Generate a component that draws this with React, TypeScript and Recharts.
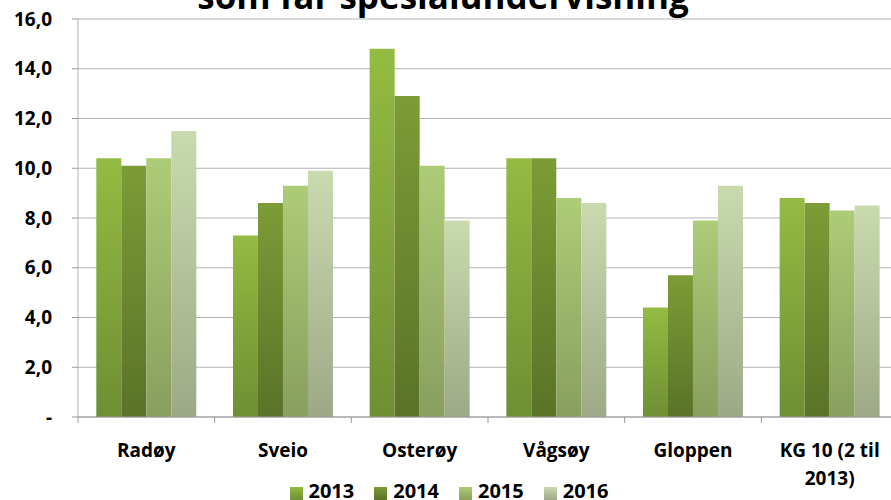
import React from "react";
import {
  BarChart,
  Bar,
  XAxis,
  YAxis,
  CartesianGrid,
  Legend,
  Text,
} from "recharts";

const kommunar = ["Radøy", "Sveio", "Osterøy", "Vågsøy", "Gloppen", "KG 10 (2 til 2013)"];
const aar = ["2013", "2014", "2015", "2016"];
const v2013 = [10.4, 7.3, 14.8, 10.4, 4.4, 8.8];
const v2014 = [10.1, 8.6, 12.9, 10.4, 5.7, 8.6];
const v2015 = [10.4, 9.3, 10.1, 8.8, 7.9, 8.3];
const v2016 = [11.5, 9.9, 7.9, 8.6, 9.3, 8.5];
const yTicks = [0, 2, 4, 6, 8, 10, 12, 14, 16];
const skiljeTicks = [0, 1, 2, 3, 4, 5, 6];

const seriesValues = [v2013, v2014, v2015, v2016];

const data = kommunar.map((name, i) => {
  const row: Record<string, string | number> = { name };
  aar.forEach((y, j) => {
    row[y] = seriesValues[j][i];
  });
  return row;
});

// top / bottom colours of the gradients, one pair per year
const gradients = [
  { id: "g2013", top: "#94bb42", bottom: "#6e8f33" },
  { id: "g2014", top: "#7c9c36", bottom: "#5a7328" },
  { id: "g2015", top: "#adcc77", bottom: "#889f5e" },
  { id: "g2016", top: "#c9daaf", bottom: "#9da986" },
];

const FONT = "'Open Sans', 'DejaVu Sans', sans-serif";

const fmtY = (v: number) => (v === 0 ? "-" : v.toFixed(1).replace(".", ","));

function CategoryTick(props: any) {
  const { x, y, payload } = props;
  return (
    <Text
      x={x}
      y={y + 18}
      width={125}
      textAnchor="middle"
      verticalAnchor="start"
      lineHeight={28}
      style={{ fontFamily: FONT, fontWeight: 700, fontSize: 19, fill: "#000" }}
    >
      {payload.value}
    </Text>
  );
}

function EmptyTick() {
  return <g />;
}

function LegendBox() {
  return (
    <div
      style={{
        display: "flex",
        justifyContent: "center",
        alignItems: "center",
        height: 22,
        fontFamily: FONT,
        fontWeight: 700,
        fontSize: 20,
        color: "#000",
      }}
    >
      {aar.map((y, i) => (
        <div key={y} style={{ display: "flex", alignItems: "center", marginRight: i < aar.length - 1 ? 20 : 0 }}>
          <span
            style={{
              display: "inline-block",
              width: 13,
              height: 13,
              marginRight: 6,
              marginTop: 4,
              background: `linear-gradient(${gradients[i].top}, ${gradients[i].bottom})`,
            }}
          />
          <span style={{ lineHeight: "22px" }}>{y}</span>
        </div>
      ))}
    </div>
  );
}

export default function App() {
  return (
    <div
      style={{
        position: "absolute",
        left: 0,
        top: 0,
        width: 891,
        height: 500,
        overflow: "hidden",
        background: "#fff",
      }}
    >
      <svg width={891} height={40} style={{ position: "absolute", left: 0, top: 0, zIndex: 2 }}>
        <text
          x={443}
          y={9}
          textAnchor="middle"
          style={{ fontFamily: FONT, fontWeight: 700, fontSize: 35, fill: "#000" }}
        >
          som får spesialundervisning
        </text>
      </svg>
      <BarChart
        width={898}
        height={500}
        data={data}
        margin={{ top: 19, right: 0, bottom: 0, left: 0 }}
        barCategoryGap="13.4%"
        barGap={0}
      >
        <defs>
          {gradients.map((g) => (
            <linearGradient key={g.id} id={g.id} x1="0" y1="0" x2="0" y2="1">
              <stop offset="0%" stopColor={g.top} />
              <stop offset="100%" stopColor={g.bottom} />
            </linearGradient>
          ))}
        </defs>
        <CartesianGrid vertical={false} stroke="#b3b3b3" strokeWidth={1.2} />
        {/* separator ticks between the categories, sits directly under the plot */}
        <XAxis
          xAxisId={0}
          type="number"
          dataKey="skilje"
          domain={[0, 6]}
          allowDataOverflow
          ticks={skiljeTicks}
          interval={0}
          height={1}
          axisLine={{ stroke: "#9a9a9a" }}
          tickSize={6}
          tick={<EmptyTick />}
          tickLine={{ stroke: "#9a9a9a" }}
          orientation="bottom"
        />
        <XAxis
          xAxisId="kat"
          dataKey="name"
          height={60}
          interval={0}
          tickLine={false}
          axisLine={false}
          tick={<CategoryTick />}
        />
        <YAxis
          width={78}
          domain={[0, 16]}
          ticks={yTicks}
          tickFormatter={fmtY}
          interval={0}
          tickSize={6}
          tickMargin={20}
          axisLine={{ stroke: "#b3b3b3" }}
          tickLine={{ stroke: "#9a9a9a" }}
          tick={{ fontFamily: FONT, fontWeight: 700, fontSize: 19, fill: "#000" }}
        />
        <Legend verticalAlign="bottom" align="center" content={<LegendBox />} wrapperStyle={{ bottom: -2 }} />
        {aar.map((y, i) => (
          <Bar key={y} xAxisId="kat" dataKey={y} fill={`url(#${gradients[i].id})`} isAnimationActive={false} />
        ))}
      </BarChart>
    </div>
  );
}
